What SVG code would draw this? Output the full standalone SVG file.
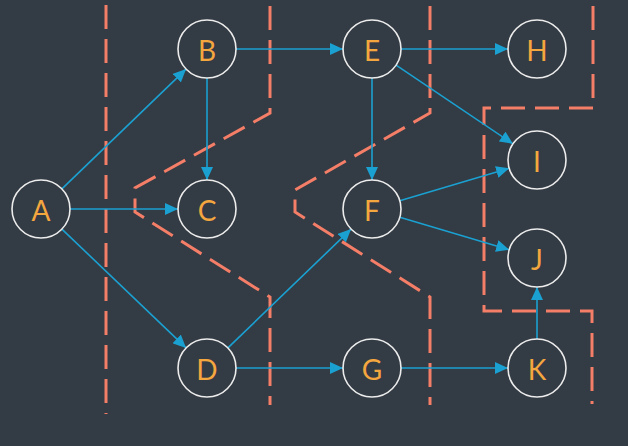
<svg xmlns="http://www.w3.org/2000/svg" width="628" height="446" viewBox="0 0 628 446">
<defs>
<marker id="arr" markerUnits="userSpaceOnUse" markerWidth="14" markerHeight="12" refX="13" refY="6" orient="auto">
<path d="M0,0 L13,6 L0,12 Z" fill="#1ba1d1"/>
</marker>
<style>
.n circle{fill:none;stroke:#ececec;stroke-width:1.6}
.n text{fill:#f4a63f;font-family:Lato,"Open Sans","Liberation Sans",sans-serif;font-size:28px;text-anchor:middle;dominant-baseline:central}
.e line{stroke:#1ba1d1;stroke-width:1.6;marker-end:url(#arr)}
.d path{fill:none;stroke:#f47e67;stroke-width:3;stroke-dasharray:24 10}
</style>
</defs>
<rect width="628" height="446" fill="#333b44"/>
<g class="d" id="partitions">
<path d="M106,5 V414"/>
<path d="M270,6 V113 L135,188 V212 L270,297 V405"/>
<path d="M430,6 V113 L295,190 V212 L430,297 V405"/>
<path d="M593,6 V108 H484 V311 H592 V404"/>
</g>
<g class="e" id="connectors">
<line x1="61.9" y1="188.9" x2="186.1" y2="69.1"/>
<line x1="70" y1="209" x2="178" y2="209"/>
<line x1="61.9" y1="229.1" x2="186.1" y2="347.9"/>
<line x1="207" y1="78" x2="207" y2="180"/>
<line x1="236" y1="49" x2="343" y2="49"/>
<line x1="401" y1="49" x2="508" y2="49"/>
<line x1="396.1" y1="65.2" x2="512.9" y2="143.8"/>
<line x1="372" y1="78" x2="372" y2="180"/>
<line x1="399.8" y1="200.7" x2="509.2" y2="168.3"/>
<line x1="399.8" y1="217.3" x2="509.2" y2="249.7"/>
<line x1="227.9" y1="347.9" x2="351.1" y2="229.1"/>
<line x1="236" y1="368" x2="343" y2="368"/>
<line x1="401" y1="368" x2="508" y2="368"/>
<line x1="537" y1="339" x2="537" y2="287"/>
</g>
<g class="n" id="A"><circle cx="41" cy="209" r="29"/><text x="41" y="210">A</text></g>
<g class="n" id="B"><circle cx="207" cy="49" r="29"/><text x="207" y="50">B</text></g>
<g class="n" id="C"><circle cx="207" cy="209" r="29"/><text x="207" y="210">C</text></g>
<g class="n" id="D"><circle cx="207" cy="368" r="29"/><text x="207" y="369">D</text></g>
<g class="n" id="E"><circle cx="372" cy="49" r="29"/><text x="372" y="50">E</text></g>
<g class="n" id="F"><circle cx="372" cy="209" r="29"/><text x="372" y="210">F</text></g>
<g class="n" id="G"><circle cx="372" cy="368" r="29"/><text x="372" y="369">G</text></g>
<g class="n" id="H"><circle cx="537" cy="49" r="29"/><text x="537" y="50">H</text></g>
<g class="n" id="I"><circle cx="537" cy="160" r="29"/><text x="537" y="161">I</text></g>
<g class="n" id="J"><circle cx="537" cy="258" r="29"/><text x="537" y="259">J</text></g>
<g class="n" id="K"><circle cx="537" cy="368" r="29"/><text x="537" y="369">K</text></g>
</svg>
